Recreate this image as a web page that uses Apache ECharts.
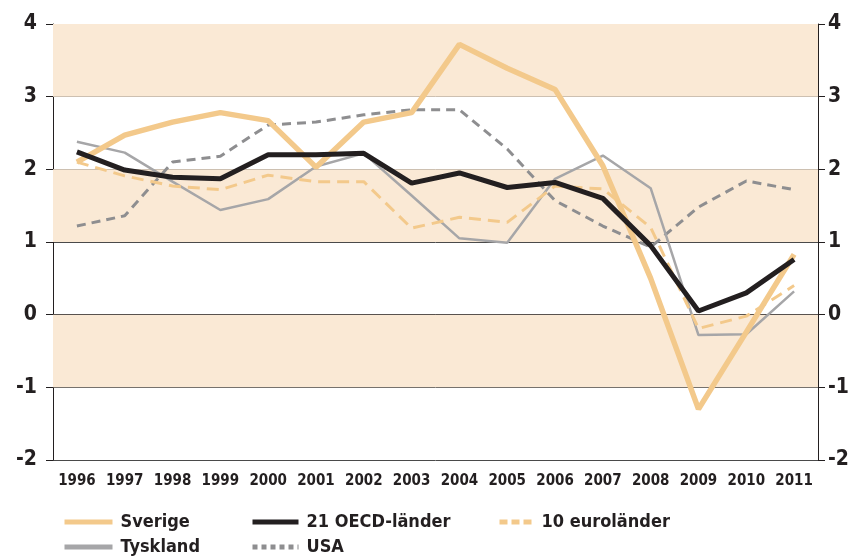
<!DOCTYPE html>
<html>
<head>
<meta charset="utf-8">
<script src="https://cdn.jsdelivr.net/npm/echarts@6/dist/echarts.min.js"></script>
<style>
  html, body { margin: 0; padding: 0; background: #fff; }
  #main { width: 852px; height: 556px; }
</style>
</head>
<body>
<div id="main"></div>
<script>
// år
var years = ['1996','1997','1998','1999','2000','2001','2002','2003','2004','2005','2006','2007','2008','2009','2010','2011'];

var sverige  = [2.10, 2.47, 2.65, 2.78, 2.67, 2.03, 2.65, 2.78, 3.72, 3.39, 3.10, 2.05, 0.50, -1.30, -0.24, 0.83];
var oecd21   = [2.24, 1.99, 1.89, 1.87, 2.20, 2.20, 2.22, 1.81, 1.95, 1.75, 1.82, 1.60, 0.95, 0.05, 0.30, 0.76];
var euro10   = [2.10, 1.91, 1.77, 1.72, 1.92, 1.83, 1.83, 1.19, 1.34, 1.27, 1.77, 1.73, 1.20, -0.19, -0.02, 0.40];
var tyskland = [2.38, 2.23, 1.83, 1.44, 1.59, 2.04, 2.22, 1.64, 1.05, 0.99, 1.87, 2.19, 1.74, -0.28, -0.27, 0.32];
var usa      = [1.22, 1.36, 2.10, 2.18, 2.61, 2.65, 2.75, 2.82, 2.82, 2.28, 1.57, 1.22, 0.93, 1.48, 1.84, 1.72];

// skuggade band
var bands = [[3, 4], [1, 2], [-1, 0]];

var FONT = '"Liberation Sans Narrow", "DejaVu Sans Condensed", "Noto Sans", sans-serif';
var ORANGE = '#F3C98B';
var INK = '#231F20';

function legendItem(name, left, top, w, dash) {
  return {
    data: [name],
    left: left, top: top,
    itemWidth: w, itemHeight: 14, itemGap: 0,
    itemStyle: { opacity: 0 },
    lineStyle: { width: 5, type: dash || 'solid', cap: 'butt' },
    textStyle: { fontFamily: FONT, fontWeight: 'bold', fontSize: 18, color: INK, padding: [0, 0, 0, 3] }
  };
}

var chart = echarts.init(document.getElementById('main'));

var option = {
  animation: false,
  grid: { left: 53, right: 34, top: 24, bottom: 96 },
  legend: [
    legendItem('Sverige', 57, 508, 48),
    legendItem('21 OECD-länder', 245, 508, 46),
    legendItem('10 euroländer', 492, 508, 34, [8, 4]),
    legendItem('Tyskland', 57, 533, 48),
    legendItem('USA', 245, 533, 46, [5, 4])
  ],
  xAxis: {
    type: 'category',
    data: years,
    boundaryGap: true,
    axisLine: { lineStyle: { color: INK, width: 1 } },
    axisTick: { interval: 0, length: 8, lineStyle: { color: INK } },
    axisLabel: { interval: 0, margin: 14, fontFamily: FONT, fontWeight: 'bold', fontSize: 15, color: INK }
  },
  yAxis: [
    {
      type: 'value', min: -2, max: 4, interval: 1, position: 'left',
      axisLine: { show: true, lineStyle: { color: INK } },
      axisTick: { show: true, length: 7, lineStyle: { color: INK } },
      axisLabel: { margin: 16, fontFamily: FONT, fontWeight: 'bold', fontSize: 21, color: INK },
      splitLine: { show: true, lineStyle: { color: '#4a4a4a', width: 1 } }
    },
    {
      type: 'value', min: -2, max: 4, interval: 1, position: 'right',
      axisLine: { show: true, lineStyle: { color: INK } },
      axisTick: { show: true, length: 7, lineStyle: { color: INK } },
      axisLabel: { margin: 10, fontFamily: FONT, fontWeight: 'bold', fontSize: 21, color: INK },
      splitLine: { show: false }
    }
  ],
  series: [
    {
      name: 'USA', type: 'line', data: usa, symbol: 'none', z: 3,
      lineStyle: { color: '#8E8E90', width: 3, type: [9, 6] },
      itemStyle: { color: '#8E8E90' },
      markArea: {
        silent: true,
        itemStyle: { color: '#FAE9D5' },
        data: bands.map(function (b) { return [{ yAxis: b[0] }, { yAxis: b[1] }]; })
      }
    },
    {
      name: 'Tyskland', type: 'line', data: tyskland, symbol: 'none', z: 4,
      lineStyle: { color: '#A6A6A8', width: 2.5 },
      itemStyle: { color: '#A6A6A8' }
    },
    {
      name: '10 euroländer', type: 'line', data: euro10, symbol: 'none', z: 5,
      lineStyle: { color: ORANGE, width: 3, type: [12, 7] },
      itemStyle: { color: ORANGE }
    },
    {
      name: 'Sverige', type: 'line', data: sverige, symbol: 'none', z: 6,
      lineStyle: { color: ORANGE, width: 5.5 },
      itemStyle: { color: ORANGE }
    },
    {
      name: '21 OECD-länder', type: 'line', data: oecd21, symbol: 'none', z: 7,
      lineStyle: { color: INK, width: 5 },
      itemStyle: { color: INK }
    }
  ]
};

chart.setOption(option);
</script>
</body>
</html>
